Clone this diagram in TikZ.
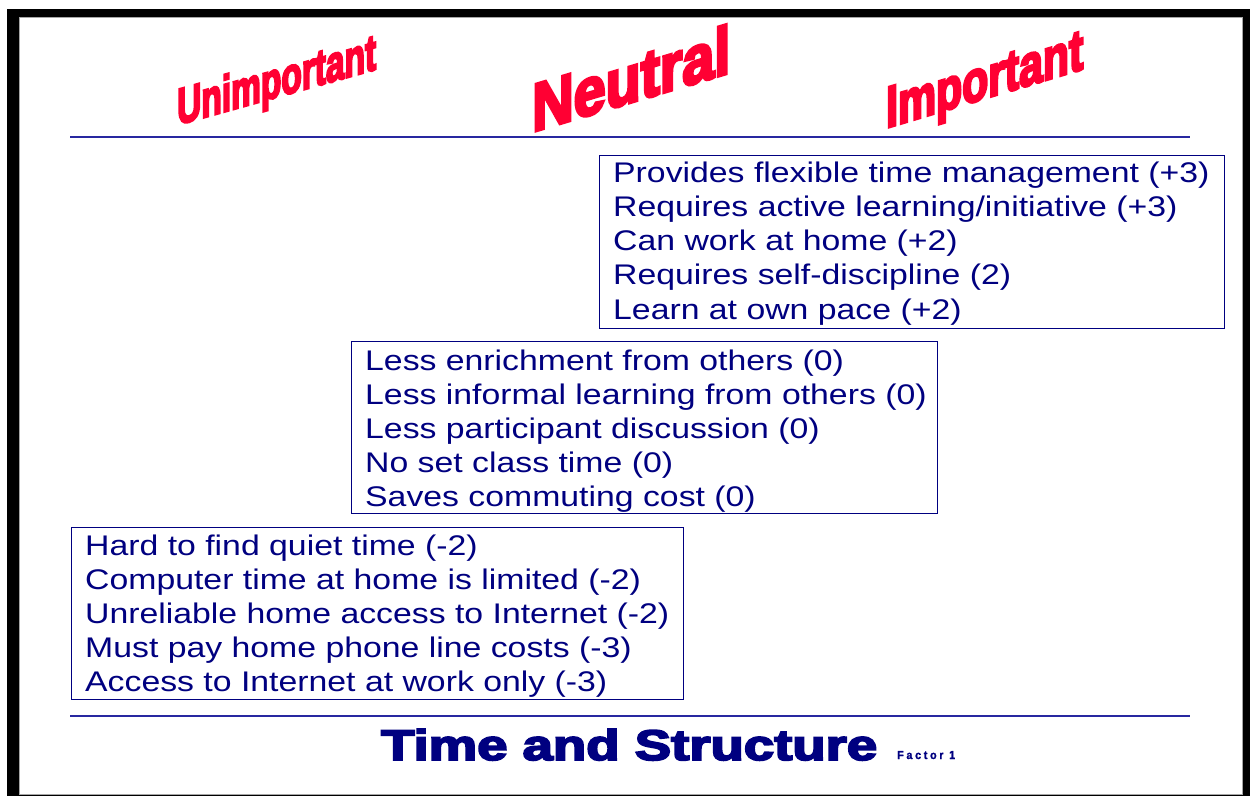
\documentclass[tikz,border=0pt]{standalone}
\usepackage{fontspec}
\usepackage{graphicx}
\setmainfont{Liberation Sans}
\newfontfamily\bodyfont[FakeStretch=1.19]{Liberation Sans}
\newfontfamily\heavyfont[FakeBold=5]{Liberation Sans Bold}
\newfontfamily\titlefont[FakeBold=4]{Liberation Sans Bold}
\newfontfamily\smallheavy[FakeBold=1.5,LetterSpace=25]{Liberation Sans Bold}
\definecolor{hdred}{RGB}{255,0,51}
\definecolor{txtnavy}{RGB}{0,0,128}
\definecolor{rulblue}{RGB}{40,40,160}
\begin{document}
\begin{tikzpicture}[x=1bp,y=-1bp,
  itemtxt/.style={anchor=base west, inner sep=0, text=txtnavy, font=\bodyfont\fontsize{28.5}{34}\selectfont},
  itembox/.style={draw=txtnavy, line width=1.2bp, anchor=north west, inner sep=0},
  rulestyle/.style={draw=rulblue, line width=1.6bp},
  header/.style={anchor=base west, inner sep=0, transform shape, text=hdred}]
\useasboundingbox (0,0) rectangle (1250,796);
% frame with shadow
\fill[black] (7,9) rectangle (1250,796);
\filldraw[fill=white, draw=gray!70, line width=0.8bp] (19,17) rectangle (1242,794);
% headers
\begin{scope}[shift={(177,125)}, cm={1,0.28,0,1,(0,0)}]
  \node[header] (unimp) at (0,0) {\heavyfont\resizebox{199bp}{37bp}{Unimportant}};
\end{scope}
\begin{scope}[shift={(532,132)}, cm={1,0.30,0,1,(0,0)}]
  \node[header] (neutral) at (0,0) {\heavyfont\resizebox{198bp}{49bp}{Neutral}};
\end{scope}
\begin{scope}[shift={(886,128)}, cm={1,0.30,0,1,(0,0)}]
  \node[header] (imp) at (0,0) {\heavyfont\resizebox{197bp}{40bp}{Important}};
\end{scope}
% rules
\coordinate (r1a) at (70,137);
\coordinate (r1b) at (1190,137);
\coordinate (r2a) at (70,716);
\coordinate (r2b) at (1190,716);
\draw[rulestyle] (r1a) -- (r1b);
\draw[rulestyle] (r2a) -- (r2b);
% boxes
\node[itembox, minimum width=625bp, minimum height=173bp] (topbox) at (599,155) {};
\node[itembox, minimum width=586bp, minimum height=172bp] (midbox) at (351,341) {};
\node[itembox, minimum width=612bp, minimum height=172bp] (botbox) at (71,527) {};
% items
\foreach \t [count=\i from 0] in {Provides flexible time management (+3),Requires active learning/initiative (+3),Can work at home (+2),Requires self-discipline (2),Learn at own pace (+2)}
  \node[itemtxt] (top-\i) at (613,{182+34.3*\i}) {\t};
\foreach \t [count=\i from 0] in {Less enrichment from others (0),Less informal learning from others (0),Less participant discussion (0),No set class time (0),Saves commuting cost (0)}
  \node[itemtxt] (mid-\i) at (365,{370+34.2*\i}) {\t};
\foreach \t [count=\i from 0] in {Hard to find quiet time (-2),Computer time at home is limited (-2),Unreliable home access to Internet (-2),Must pay home phone line costs (-3),Access to Internet at work only (-3)}
  \node[itemtxt] (bot-\i) at (85,{555+34.2*\i}) {\t};
% title
\node[anchor=base west, inner sep=0, text=txtnavy] (title) at (381,760) {\titlefont\resizebox{496bp}{31bp}{Time and Structure}};
\node[anchor=base west, inner sep=0, text=txtnavy] (factor) at (897,759) {\smallheavy\resizebox{58bp}{8bp}{Factor 1}};
\end{tikzpicture}
\end{document}
